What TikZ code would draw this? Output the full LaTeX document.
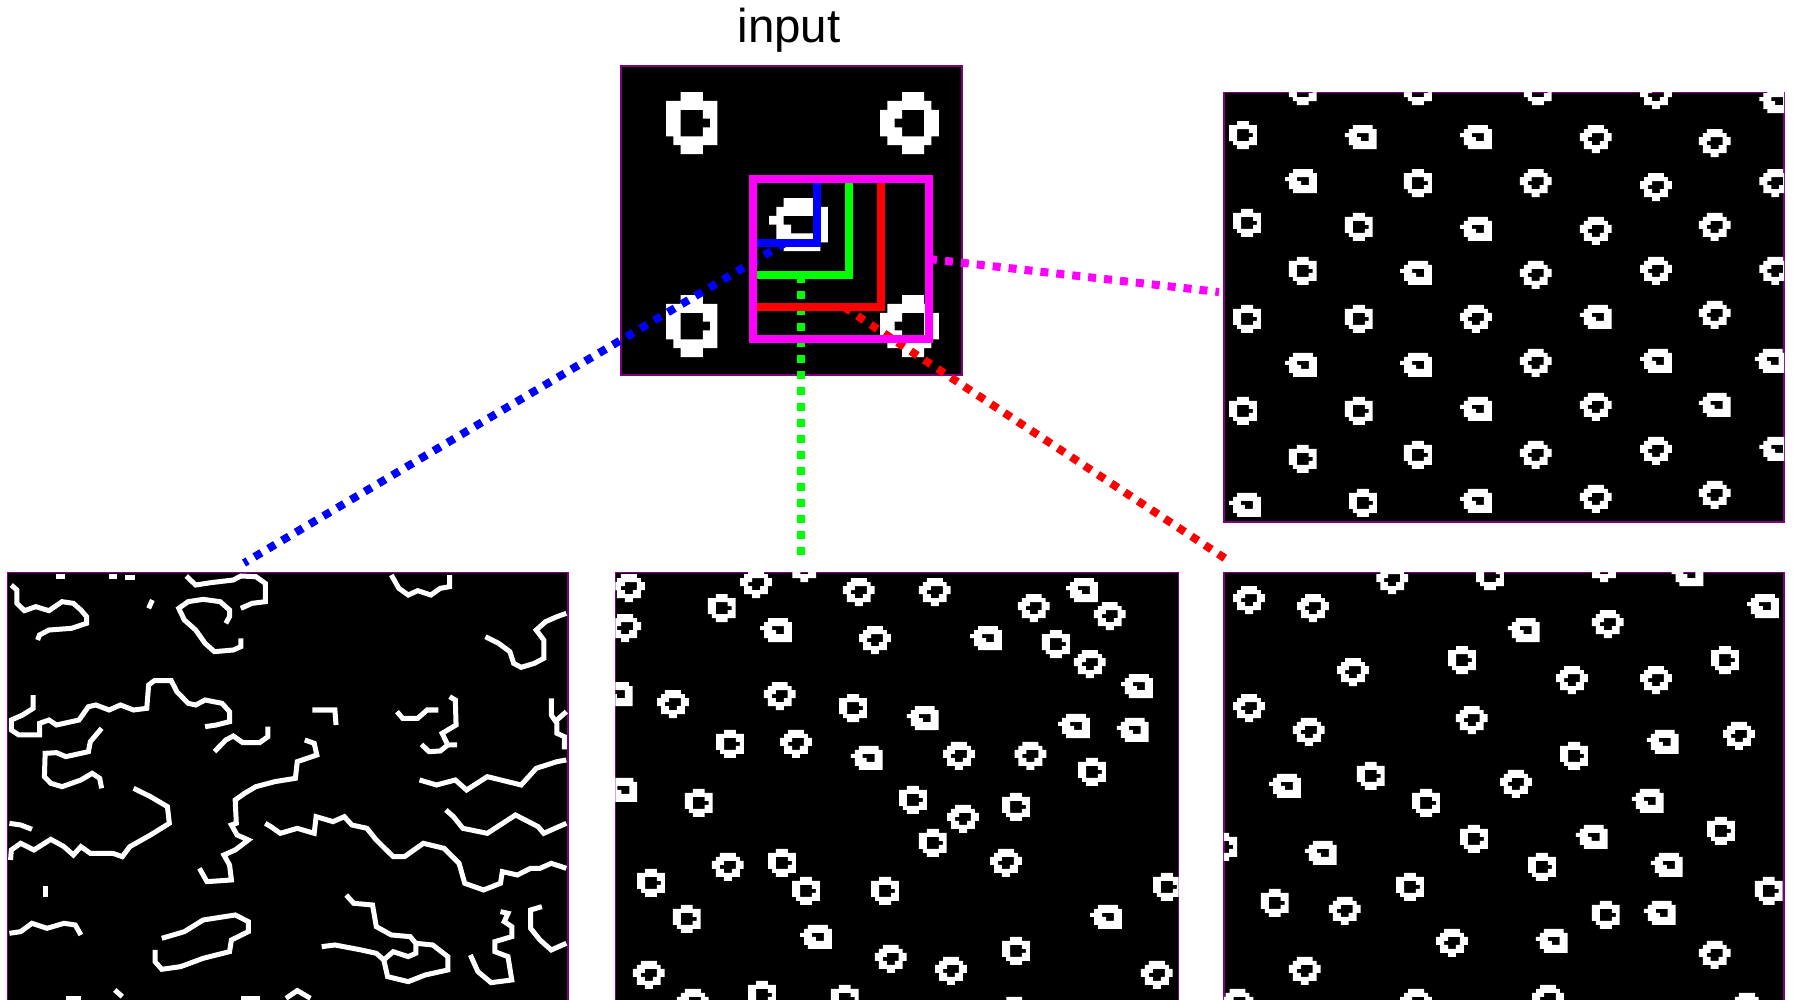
\documentclass[tikz,border=0pt]{standalone}
\usepackage{fontspec}
\setmainfont{Liberation Sans}
\definecolor{panelpurple}{HTML}{800080}
\definecolor{selmagenta}{HTML}{FF00FF}
\tikzset{
  panelbox/.style={draw=panelpurple,line width=0.015cm,fill=black,anchor=north west,inner sep=0pt,outer sep=0pt,minimum width=5.6cm,minimum height=4.29cm},
  selbox/.style={draw=selmagenta,line width=0.08cm,inner sep=0pt,outer sep=0pt,minimum width=1.76cm,minimum height=1.594cm},
  selline/.style={line width=0.08cm},
  dotline/.style={line width=0.08cm,dash pattern=on 0.08cm off 0.08cm},
  edgeline/.style={draw=white,line width=0.05cm},
  ringcell/.style={xscale=3.97,yscale=4},
  inputcell/.style={xscale=7.35,yscale=8.87},
  ringa/.pic={\fill[white,even odd rule] (2,0)--(5,0)--(5,1)--(7,1)--(7,6)--(5,6)--(5,7)--(2,7)--(2,6)--(1,6)--(1,5)--(0,5)--(0,1)--(2,1)--cycle
    (2,2)--(5,2)--(5,3)--(6,3)--(6,4)--(5,4)--(5,5)--(2,5)--cycle;},
  ringb/.pic={\fill[white,even odd rule] (2,0)--(7,0)--(7,1)--(8,1)--(8,6)--(2,6)--(2,5)--(1,5)--(1,3)--(0,3)--(0,2)--(1,2)--(1,1)--(2,1)--cycle
    (3,2)--(6,2)--(6,4)--(4,4)--(4,3)--(3,3)--cycle;},
  ringc/.pic={\fill[white,even odd rule] (2,0)--(6,0)--(6,1)--(7,1)--(7,2)--(8,2)--(8,4)--(7,4)--(7,6)--(5,6)--(5,7)--(3,7)--(3,6)--(1,6)--(1,4)--(0,4)--(0,2)--(1,2)--(1,1)--(2,1)--cycle
    (3,2)--(6,2)--(6,4)--(5,4)--(5,5)--(3,5)--(3,4)--(2,4)--(2,3)--(3,3)--cycle;},
  ringd/.pic={\fill[white,even odd rule] (3,0)--(6,0)--(6,1)--(7,1)--(7,2)--(8,2)--(8,5)--(7,5)--(7,6)--(6,6)--(6,7)--(3,7)--(3,6)--(1,6)--(1,5)--(0,5)--(0,2)--(1,2)--(1,1)--(3,1)--cycle
    (3,2)--(6,2)--(6,5)--(3,5)--(3,4)--(2,4)--(2,3)--(3,3)--cycle;},
  ringe/.pic={\fill[white,even odd rule] (2,0)--(6,0)--(6,1)--(8,1)--(8,5)--(7,5)--(7,6)--(2,6)--(2,5)--(1,5)--(1,3)--(0,3)--(0,2)--(1,2)--(1,1)--(2,1)--cycle
    (2,2)--(6,2)--(6,4)--(3,4)--(3,3)--(2,3)--cycle;},
}
\begin{document}
\begin{tikzpicture}[x=0.01cm,y=-0.01cm]
  \useasboundingbox (0,0) rectangle (1796,999);
  \node[font=\fontsize{13.5}{16}\selectfont] (inputlabel) at (789,30.5) {input};
  % input panel
  \node[panelbox,minimum width=3.41cm,minimum height=3.09cm] (inputpanel) at (621,66) {};
  \pic[inputcell] at (666,92) {ringa};
  \pic[inputcell] at (666,295) {ringa};
  \pic[inputcell] at (880,92) {ringd};
  \pic[inputcell] at (880,295) {ringd};
  \pic[inputcell] at (769,198) {ringe};
  % dotted leaders
  \coordinate (bluemid) at (785,243);
  \coordinate (greenmid) at (801,275);
  \coordinate (redmid) at (844,307);
  \coordinate (blueend) at (244,563);
  \coordinate (greenend) at (801,556);
  \coordinate (redend) at (1229,561);
  \coordinate (magentaend) at (1219,292);
  \coordinate (bluecorner) at (817,243);
  \coordinate (greencorner) at (849,275);
  \coordinate (redcorner) at (881,307);
  \node[selbox] (selection) at (841,259) {};
  \draw[dotline,blue] (bluemid) -- (blueend);
  \draw[dotline,green] (greenmid) -- (greenend);
  \draw[dotline,red] (redmid) -- (redend);
  \draw[dotline,selmagenta] (selection.east) -- (magentaend);
  \draw[selline,blue] (bluecorner |- selection.north) -- (bluecorner) -- (bluecorner -| selection.west);
  \draw[selline,green] (greencorner |- selection.north) -- (greencorner) -- (greencorner -| selection.west);
  \draw[selline,red] (redcorner |- selection.north) -- (redcorner) -- (redcorner -| selection.west);
  \node[selbox] (selectiontop) at (841,259) {};
  % output panels
  \node[panelbox] (leftpanel) at (7.5,572.7) {};
  \node[panelbox,minimum width=5.63cm] (midpanel) at (615.3,572.7) {};
  \node[panelbox] (rightpanel) at (1223.8,572.7) {};
  \node[panelbox] (toppanel) at (1223.8,92.7) {};
  % left panel
  \begin{scope}[shift={(0,560)},xscale=0.3763,yscale=0.3333]
    \clip (leftpanel.north west) rectangle (leftpanel.south east);
    \foreach \edgepts in {
      {(30,75)--(45,90)--(45,130)--(65,152)--(95,140)--(130,152)--(165,125)--(195,130)--(215,150)--(230,170)--(230,190)--(190,205)--(130,210)--(105,225)--(100,240)},
      {(150,48)--(172,48)},{(290,48)--(310,48)},{(333,52)--(360,52)},{(395,145)--(405,120)},
      {(495,48)--(520,75)--(560,68)--(620,60)--(640,48)--(680,50)--(705,70)--(705,125)--(670,130)--(640,145)},
      {(600,190)--(610,170)--(610,150)--(585,125)--(540,118)--(500,125)--(475,145)--(490,180)--(520,210)--(545,250)--(570,275)--(620,270)--(640,260)--(640,235)},
      {(1040,45)--(1060,85)--(1085,105)--(1110,92)--(1145,105)--(1170,85)--(1195,80)--(1195,45)},
      {(1505,160)--(1480,170)--(1450,185)--(1425,210)--(1445,240)--(1445,295)--(1420,310)--(1385,322)--(1365,310)--(1355,275)--(1325,250)--(1290,230)},
      {(88,405)--(88,445)--(60,465)--(30,480)--(30,510)--(50,525)--(105,525)--(105,490)--(130,480)--(150,495)--(210,480)--(235,440)--(255,435)--(290,450)--(320,435)--(355,450)--(390,445)--(395,375)--(410,362)--(455,362)--(470,395)--(500,430)--(520,435)--(545,420)--(590,430)--(610,455)--(610,485)--(575,495)--(545,500)},
      {(270,505)--(240,545)--(235,575)--(175,590)--(150,578)--(120,580)--(118,650)--(135,670)--(165,680)--(215,660)--(245,640)--(265,655)--(270,685)},
      {(570,575)--(600,540)--(620,528)--(645,548)--(690,548)--(712,530)--(712,500)},
      {(830,450)--(890,450)--(893,495)},
      {(810,540)--(835,550)--(842,585)--(790,605)--(785,655)--(730,665)--(680,680)--(650,700)--(625,720)--(628,790)--(615,795)--(630,825)--(660,840)--(625,870)--(595,885)--(610,915)--(615,960)--(550,965)--(530,925)},
      {(1055,455)--(1070,475)--(1110,475)--(1135,450)--(1165,450)},
      {(1195,410)--(1210,420)--(1212,495)--(1175,520)--(1190,555)--(1215,555)},
      {(1120,553)--(1140,575)--(1170,573)--(1190,555)},
      {(1465,415)--(1465,465)--(1480,490)--(1480,520)--(1500,530)--(1500,568)},{(1480,480)--(1505,455)},
      {(1115,660)--(1160,675)--(1210,660)--(1240,690)--(1295,650)--(1385,675)--(1425,625)--(1480,605)--(1505,600)},
      {(355,685)--(400,710)--(445,740)--(450,790)--(400,825)--(345,860)--(325,890)--(300,880)--(240,880)--(215,860)--(195,885)--(170,860)--(135,838)--(90,870)--(55,850)--(30,870)--(28,900)},
      {(25,790)--(55,795)--(85,808)},
      {(705,790)--(720,800)--(745,820)--(790,805)--(835,820)--(840,770)--(885,785)--(915,770)--(935,795)--(975,805)--(1000,840)--(1045,890)--(1075,890)--(1125,850)--(1180,865)--(1220,910)--(1235,970)--(1285,990)--(1330,970)--(1335,935)--(1375,945)--(1410,925)--(1435,925)--(1465,910)--(1505,925)},
      {(1185,750)--(1205,770)--(1230,805)--(1295,820)--(1370,765)--(1430,800)--(1445,820)--(1505,790)},
      {(120,977)--(120,1010)},
      {(25,1120)--(55,1115)--(85,1090)--(125,1105)--(170,1090)--(200,1095)--(215,1125)},
      {(430,1135)--(490,1115)--(540,1080)--(625,1065)--(660,1085)--(660,1115)--(615,1140)--(610,1175)--(540,1195)--(480,1220)--(430,1228)--(412,1205)--(412,1170)},
      {(920,1005)--(940,1030)--(990,1035)--(1000,1100)--(1040,1125)--(1090,1130)--(1105,1150)--(1150,1155)--(1190,1190)--(1190,1230)--(1130,1245)--(1085,1265)--(1030,1250)--(1020,1200)--(1045,1175)--(1085,1190)--(1105,1180)--(1105,1150)},
      {(855,1160)--(890,1155)--(960,1170)--(1000,1180)--(1020,1200)},
      {(1330,1055)--(1350,1060)--(1340,1085)--(1360,1100)--(1360,1130)--(1315,1145)--(1315,1175)--(1350,1190)--(1360,1260)--(1305,1268)--(1270,1235)--(1250,1185)},
      {(1440,1040)--(1410,1050)--(1410,1105)--(1435,1140)--(1465,1170)--(1505,1150)},
      {(175,1315)--(215,1315)},{(305,1290)--(325,1310)},{(640,1315)--(690,1315)},{(760,1315)--(790,1292)--(825,1315)}
    } \draw[edgeline] \edgepts;
  \end{scope}
  % middle panel
  \begin{scope}[shift={(610,560)},xscale=0.3763,yscale=0.3333]
    \clip (midpanel.north west) rectangle (midpanel.south east);
    \foreach \x/\y in {260/102,1148/210,609/402,282/510,1244/594,199/687,768/678,1042/699,821/807,420/867,72/927,484/951,694/951,1443/939,167/1035,1042/1131,367/1263,587/1275}
      \pic[ringcell] at (\x,\y) {ringa};
    \foreach \x/\y in {1212/54,399/174,957/198,1358/342,-24/366,789/438,1191/462,1347/474,640/558,-12/654,1276/1035,505/1095}
      \pic[ringcell] at (\x,\y) {ringb};
    \foreach \x/\y in {8/42,346/30,474/-18,619/54,821/54,1084/102,1286/126,-2/162,662/198,1233/270,125/390,409/366,452/510,885/546,1075/546,896/735,1010/867,271/879,704/1155,864/1191,61/1203,1411/1203,178/1287,1032/1311}
      \pic[ringcell] at (\x,\y) {ringc};
  \end{scope}
  % right panel
  \begin{scope}[shift={(1210,560)},xscale=0.3737,yscale=0.3333]
    \clip (rightpanel.north west) rectangle (rightpanel.south east);
    \foreach \x/\y in {712/6,637/258,1341/258,937/546,393/606,541/687,1330/771,669/795,-2/819,851/879,1458/951,498/939,136/987,1022/1023}
      \pic[ringcell] at (\x,\y) {ringa};
    \foreach \x/\y in {1235/6,1437/102,797/174,1169/510,158/642,1129/687,979/795,254/843,1180/879,1161/1023,872/1107}
      \pic[ringcell] at (\x,\y) {ringb};
    \foreach \x/\y in {62/78,233/102,445/18,1012/-18,1022/150,340/294,926/318,1151/318,62/402,658/438,222/474,1373/486,776/630,318/1011,605/1107,1308/1143,211/1191,31/1287,509/1287,862/1275,1394/1299}
      \pic[ringcell] at (\x,\y) {ringc};
  \end{scope}
  % top right panel
  \begin{scope}[shift={(1210,80)},xscale=0.3737,yscale=0.3333]
    \clip (toppanel.north west) rectangle (toppanel.south east);
    \foreach \x/\y in {211/-9,519/-9,840/-9,51/123,519/267,62/387,361/399,211/531,62/675,361/675,51/951,361/951,211/1095,519/1083,372/1227}
      \pic[ringcell] at (\x,\y) {ringa};
    \foreach \x/\y in {1470/27,361/135,669/135,201/267,669/411,509/543,990/675,201/819,509/819,1151/807,1458/807,669/951,1308/939,1470/1071,51/1239,669/1227}
      \pic[ringcell] at (\x,\y) {ringb};
    \foreach \x/\y in {1151/3,990/135,1308/147,829/267,1151/279,1470/267,990/411,1308/399,829/543,1151/531,1470/531,669/675,1308/663,829/807,990/939,829/1083,1151/1071,990/1215,1308/1203}
      \pic[ringcell] at (\x,\y) {ringc};
  \end{scope}
\end{tikzpicture}
\end{document}
